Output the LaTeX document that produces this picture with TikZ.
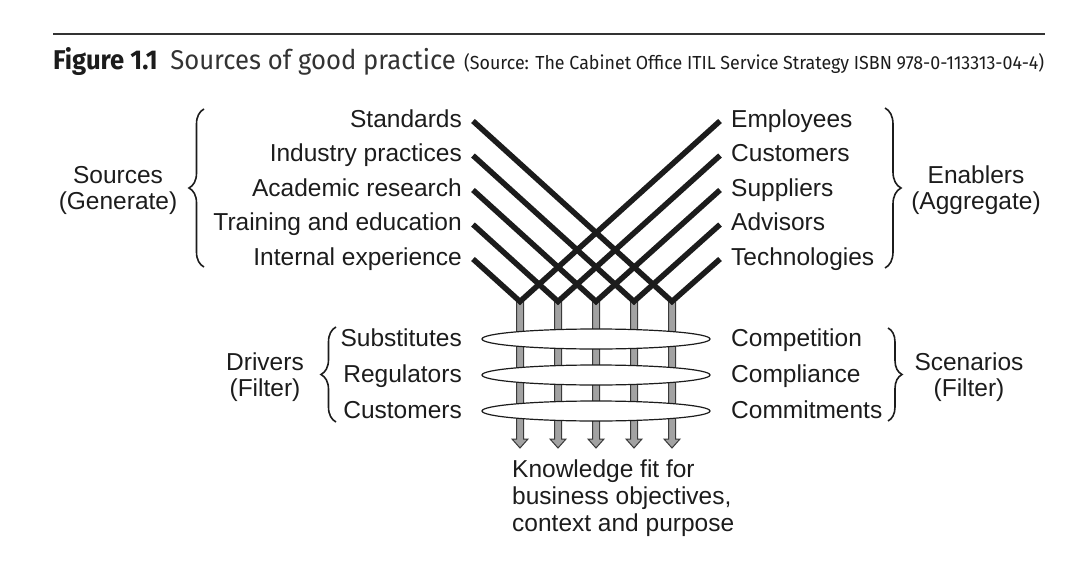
\documentclass[tikz,border=0pt]{standalone}
\usepackage{fontspec}
\usepackage{graphicx}
\setmainfont{Liberation Sans}
\newfontfamily\capfont[FakeStretch=0.8]{Fira Sans}
\usetikzlibrary{shapes.geometric,decorations.pathreplacing,calc}
\definecolor{ink}{HTML}{1C1C1C}
\definecolor{capgray}{HTML}{333333}
\definecolor{shaftgray}{HTML}{A2A2A2}
\definecolor{shaftedge}{HTML}{3A3A3A}
\begin{document}
\begin{tikzpicture}[x=1pt,y=-1pt,
  lbl/.style={inner sep=0pt, text=ink, font=\fontsize{24.5}{34}\selectfont},
  vline/.style={line width=5.5pt, draw=ink, line join=miter, line cap=butt},
  arrowbody/.style={fill=shaftgray, draw=shaftedge, line width=1pt, line join=miter},
  filterring/.style={ellipse, draw=ink, fill=white, line width=1.2pt, minimum width=228pt, minimum height=20pt, inner sep=0pt},
  bracestyle/.style={draw=ink, line width=1.6pt, decorate}
]
\useasboundingbox (0,0) rectangle (1080,570);

% caption and rule
\draw[line width=2pt, draw=capgray] (53,34) -- (1045,34);
\node[anchor=base west, inner sep=0pt, text=ink] (cap) at (53,70)
  {\resizebox{991pt}{1.18\height}{\capfont\fontsize{23}{26}\selectfont
   {\bfseries Figure 1.1}\hspace{9pt}{\color{capgray}Sources of good practice}\hspace{6pt}{\fontsize{16}{18}\selectfont(Source: The Cabinet Office ITIL Service Strategy ISBN 978-0-113313-04-4)}}};

% coordinates
\foreach \i in {0,...,4} {
  \coordinate (L\i) at (473,{121+34.5*\i});
  \coordinate (R\i) at (720,{121+34.5*\i});
  \coordinate (B\i) at ({520+38*\i},301.5);
  \coordinate (A\i) at ({520+38*\i},448);
}

% labels left (sources)
\node[lbl, anchor=base east] (s1) at (462,127) {Standards};
\node[lbl, anchor=base east] (s2) at (462,161.5) {Industry practices};
\node[lbl, anchor=base east] (s3) at (462,196) {Academic research};
\node[lbl, anchor=base east] (s4) at (462,230.5) {Training and education};
\node[lbl, anchor=base east] (s5) at (462,265) {Internal experience};
% labels right (enablers)
\node[lbl, anchor=base west] (e1) at (731,127) {Employees};
\node[lbl, anchor=base west] (e2) at (731,161.5) {Customers};
\node[lbl, anchor=base west] (e3) at (731,196) {Suppliers};
\node[lbl, anchor=base west] (e4) at (731,230.5) {Advisors};
\node[lbl, anchor=base west] (e5) at (731,265) {Technologies};

% group labels
\node[lbl, anchor=base] (src1) at (118,183) {Sources};
\node[lbl, anchor=base] (src2) at (118,209) {(Generate)};
\node[lbl, anchor=base] (en1) at (976,183) {Enablers};
\node[lbl, anchor=base] (en2) at (976,209) {(Aggregate)};
\node[lbl, anchor=base] (dr1) at (265,370) {Drivers};
\node[lbl, anchor=base] (dr2) at (265,396) {(Filter)};
\node[lbl, anchor=base] (sc1) at (969,370) {Scenarios};
\node[lbl, anchor=base] (sc2) at (969,396) {(Filter)};

% braces
\draw[bracestyle, decoration={brace, amplitude=15pt}] (204,267) -- (204,109);
\draw[bracestyle, decoration={brace, amplitude=16pt}] (885,108) -- (885,268);
\draw[bracestyle, decoration={brace, amplitude=15pt}] (336,422) -- (336,327);
\draw[bracestyle, decoration={brace, amplitude=14pt}] (888,328) -- (888,421);

% gray arrows
\foreach \k in {0,...,4} {
  \filldraw[arrowbody] ($(B\k)+(-3.5,0)$) -- ($(A\k)+(-3.5,-9)$) -- ($(A\k)+(-8,-9)$) -- (A\k)
     -- ($(A\k)+(8,-9)$) -- ($(A\k)+(3.5,-9)$) -- ($(B\k)+(3.5,0)$) -- cycle;
}

% filter ellipses
\node[filterring] (f1) at (596,339) {};
\node[filterring] (f2) at (596,375) {};
\node[filterring] (f3) at (596,411) {};

% filter labels
\node[lbl, anchor=base east] (d1) at (462,346.5) {Substitutes};
\node[lbl, anchor=base east] (d2) at (462,382.5) {Regulators};
\node[lbl, anchor=base east] (d3) at (462,418.5) {Customers};
\node[lbl, anchor=base west] (c1) at (731,346.5) {Competition};
\node[lbl, anchor=base west] (c2) at (731,382.5) {Compliance};
\node[lbl, anchor=base west] (c3) at (731,418.5) {Commitments};

% V lines
\foreach \k in {0,...,4} {
  \pgfmathtruncatemacro{\j}{4-\k}
  \draw[vline] (L\j) -- (B\k) -- (R\k);
}

% output text
\node[lbl, anchor=base west] (k1) at (512,477) {Knowledge fit for};
\node[lbl, anchor=base west] (k2) at (512,504) {business objectives,};
\node[lbl, anchor=base west] (k3) at (512,531) {context and purpose};
\end{tikzpicture}
\end{document}
